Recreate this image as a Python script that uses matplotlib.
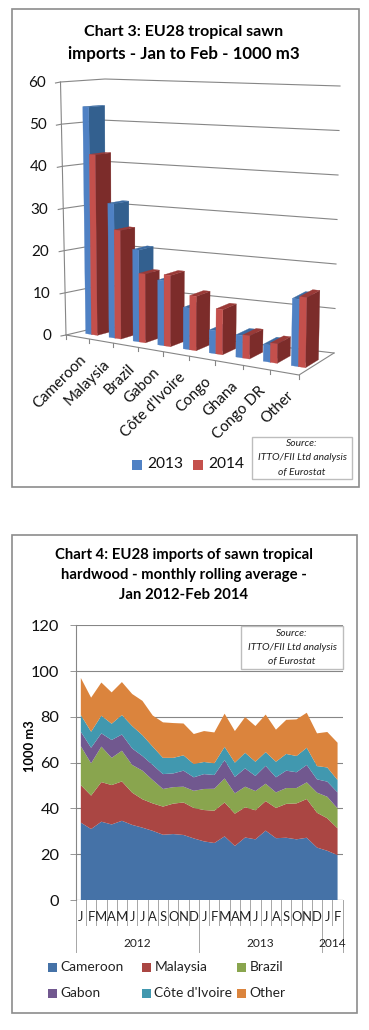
"""
EU28 tropical sawn imports: a pseudo 3D bar chart on top and a stacked area
chart below, laid out on one tall figure.
"""

import matplotlib
import matplotlib.pyplot as plt
import numpy as np
from matplotlib.patches import Rectangle


matplotlib.use("Agg")

plt.rcParams["font.family"] = ["Lato", "DejaVu Sans"]

FIG_W, FIG_H = 369, 1030
GREY = "#868686"

# Chart 3 data
COUNTRIES_3 = ["Cameroon", "Malaysia", "Brazil", "Gabon", "Côte d'Ivoire",
               "Congo", "Ghana", "Congo DR", "Other"]
IMPORTS_2013 = [54.0, 31.6, 21.4, 15.0, 9.5, 5.2, 5.0, 3.8, 14.8]
IMPORTS_2014 = [42.8, 25.5, 16.0, 16.4, 12.4, 10.2, 5.2, 4.3, 15.4]
Y_TICKS_3 = [0, 10, 20, 30, 40, 50, 60]
LEGEND_3 = ["2013", "2014"]

# Chart 4 data
MONTHS = list("JFMAMJJASOND") + list("JFMAMJJASOND") + list("JF")
YEARS = ["2012", "2013", "2014"]
YEAR_SPANS = [(0, 12), (12, 24), (24, 26)]
Y_TICKS_4 = [0, 20, 40, 60, 80, 100, 120]
CAMEROON = [33.8, 31.0, 34.2, 33.0, 34.6, 32.8, 31.6, 30.2, 28.5, 28.8, 28.4, 26.9, 25.6,
            24.9, 27.8, 23.6, 27.3, 26.5, 30.3, 27.0, 27.2, 26.5, 27.2, 22.9, 21.5, 19.6]
MALAYSIA = [16.4, 14.6, 17.3, 17.2, 17.2, 14.1, 12.4, 12.0, 12.3, 13.3, 14.2, 13.3, 13.7,
            14.1, 14.8, 14.1, 13.2, 12.7, 12.9, 13.2, 14.8, 15.7, 16.9, 15.2, 14.2, 11.7]
BRAZIL = [17.0, 14.1, 15.5, 11.9, 13.4, 12.1, 12.5, 10.2, 7.7, 7.2, 6.9, 7.5, 9.2,
          9.6, 10.5, 8.9, 9.0, 8.4, 7.6, 6.8, 6.9, 6.7, 7.3, 8.8, 9.4, 8.7]
GABON = [6.3, 6.8, 5.8, 7.8, 7.1, 7.2, 6.4, 6.6, 6.5, 6.0, 7.0, 5.9, 6.5,
         6.0, 8.0, 7.2, 8.0, 6.6, 7.8, 6.6, 7.6, 6.9, 7.6, 5.8, 6.6, 7.0]
COTE_IVOIRE = [7.3, 7.0, 7.7, 7.1, 8.5, 9.8, 9.1, 8.0, 7.1, 6.8, 6.7, 5.8, 5.3,
               5.1, 5.8, 6.2, 6.8, 6.2, 6.0, 6.8, 7.3, 7.1, 7.5, 5.8, 6.2, 5.4]
OTHER = [16.2, 14.9, 14.5, 13.7, 14.4, 14.0, 15.0, 13.6, 15.5, 15.2, 13.9, 13.1, 13.5,
         13.5, 14.5, 13.8, 15.6, 15.6, 16.4, 14.0, 14.9, 16.0, 15.3, 14.3, 15.5, 16.3]
SERIES_4 = [CAMEROON, MALAYSIA, BRAZIL, GABON, COTE_IVOIRE, OTHER]
LABELS_4 = ["Cameroon", "Malaysia", "Brazil", "Gabon", "Côte d'Ivoire", "Other"]
COLORS_4 = ["#4572A7", "#AA4643", "#89A54E", "#71588F", "#4198AF", "#DB843D"]

# Corners of the 3D box in image pixels: floor and z=60 plane
FLOOR = {"fl": (66, 335), "fr": (299, 375), "bl": (104, 326), "br": (334, 353)}
CEIL = {"fl": (60.5, 82), "fr": (304, 98), "bl": (105, 79), "br": (340, 86)}
WARP = 0.885  # category axis spreads out towards the right

# Bar placement in box units
BAR_START = 0.36
BAR_WIDTH = 0.25
BAR_V0, BAR_V1 = 0.30, 0.67

BLUE_FACES = ("#4F81C4", "#33608F", "#3C6CA3")
RED_FACES = ("#C4504C", "#7C2C2A", "#9A3A37")


def bilinear(corners, s, v):
    fl, fr, bl, br = (np.array(corners[k], dtype=float) for k in ("fl", "fr", "bl", "br"))
    return (1 - v) * ((1 - s) * fl + s * fr) + v * ((1 - s) * bl + s * br)


def project(u, v, z):
    """Category position u (0-9), depth v (0-1), value z -> image pixels."""
    t = u / 9
    s = t * (WARP + (1 - WARP) * t)
    low = bilinear(FLOOR, s, v)
    high = bilinear(CEIL, s, v)
    return low + (high - low) * z / 60


def fill_poly(ax, points, color, zorder):
    pts = np.array(points)
    ax.fill(pts[:, 0], pts[:, 1], color=color, linewidth=0.2, zorder=zorder)


def draw_bar(ax, u0, u1, value, faces, zorder):
    front, side, top = faces
    a = project(u0, BAR_V0, 0)
    b = project(u1, BAR_V0, 0)
    c = project(u1, BAR_V1, 0)
    a_top = project(u0, BAR_V0, value)
    b_top = project(u1, BAR_V0, value)
    c_top = project(u1, BAR_V1, value)
    d_top = project(u0, BAR_V1, value)
    fill_poly(ax, [b, c, c_top, b_top], side, zorder)
    fill_poly(ax, [a_top, b_top, c_top, d_top], top, zorder)
    fill_poly(ax, [a, b, b_top, a_top], front, zorder)


def draw_source_box(ax, x0, y0, x1, y1, size):
    ax.add_patch(Rectangle((x0, y0), x1 - x0, y1 - y0, facecolor="white",
                           edgecolor="#BDBDBD", linewidth=1, zorder=20))
    lines = ["Source:", "ITTO/FII Ltd analysis", "of Eurostat"]
    xc = (x0 + x1) / 2
    step = (y1 - y0) / 3
    for i, line in enumerate(lines):
        ax.text(xc, y0 + step * (i + 0.5), line, style="italic", fontsize=size,
                ha="center", va="center", color="#222222", zorder=21)


def plot_chart_3(ax):
    ax.add_patch(Rectangle((11.5, 8.5), 347, 478.5, facecolor="white",
                           edgecolor="#8C8C8C", linewidth=1.2, zorder=0))
    ax.text(184, 32, "Chart 3: EU28 tropical sawn", fontsize=11.5, weight="bold",
            ha="center", va="center")
    ax.text(184, 54, "imports - Jan to Feb - 1000 m3", fontsize=12.2, weight="bold",
            ha="center", va="center")

    # walls and floor
    for z in Y_TICKS_3:
        p0 = project(0, 0, z)
        p1 = project(0, 1, z)
        p2 = project(9, 1, z)
        ax.plot([p0[0] - 5, p0[0], p1[0], p2[0]], [p0[1] + 1, p0[1], p1[1], p2[1]],
                color=GREY, lw=0.8, zorder=1)
        ax.text(p0[0] - 15, p0[1] + 1, str(z), fontsize=11, ha="right", va="center",
                color="#111111")
    axis_low, axis_high = project(0, 0, 0), project(0, 0, 60)
    ax.plot([axis_low[0], axis_high[0]], [axis_low[1], axis_high[1]], color=GREY, lw=0.8, zorder=1)
    front_r, back_r = project(9, 0, 0), project(9, 1, 0)
    ax.plot([axis_low[0], front_r[0], back_r[0]], [axis_low[1], front_r[1], back_r[1]],
            color=GREY, lw=0.8, zorder=1)
    for i in range(10):
        p = project(i, 0, 0)
        ax.plot([p[0], p[0]], [p[1], p[1] + 4], color=GREY, lw=0.8, zorder=1)

    for i, (v13, v14) in enumerate(zip(IMPORTS_2013, IMPORTS_2014)):
        start = i + BAR_START
        draw_bar(ax, start, start + BAR_WIDTH, v13, BLUE_FACES, 5 + 2 * i)
        draw_bar(ax, start + BAR_WIDTH, start + 2 * BAR_WIDTH, v14, RED_FACES, 6 + 2 * i)

    for i, name in enumerate(COUNTRIES_3):
        p = project(i + 0.5, 0, 0)
        ax.text(p[0] + 2, p[1] + 16, name, rotation=45, rotation_mode="anchor",
                ha="right", va="top", fontsize=10.8, color="#111111")

    for x, label, color in zip((132, 193), LEGEND_3, (BLUE_FACES[0], RED_FACES[0])):
        ax.add_patch(Rectangle((x, 459.5), 10, 10, facecolor=color, edgecolor="none"))
        ax.text(x + 15, 464.5, label, fontsize=11.2, ha="left", va="center", color="#111111")

    draw_source_box(ax, 252, 437, 352, 479, 7.4)


def plot_chart_4(ax, fig):
    ax.add_patch(Rectangle((11.5, 534.5), 345.5, 478, facecolor="white",
                           edgecolor="#8C8C8C", linewidth=1.2, zorder=0))
    titles = ["Chart 4: EU28 imports of sawn tropical",
              "hardwood - monthly rolling average -",
              "Jan 2012-Feb 2014"]
    for y, line in zip((555, 575, 595), titles):
        ax.text(184, y, line, fontsize=10.7, weight="bold", ha="center", va="center")

    left, right, top, bottom = 75.7, 342.7, 625.3, 900
    area = fig.add_axes([left / FIG_W, 1 - bottom / FIG_H,
                         (right - left) / FIG_W, (bottom - top) / FIG_H])
    area.patch.set_alpha(0)
    x = np.arange(len(MONTHS)) + 0.5
    area.stackplot(x, SERIES_4, colors=COLORS_4, linewidth=0, zorder=3)
    area.set_xlim(0, len(MONTHS))
    area.set_ylim(0, 120)
    area.set_yticks(Y_TICKS_4)
    area.set_yticklabels([str(t) for t in Y_TICKS_4], fontsize=11.8, color="#111111")
    area.grid(axis="y", color=GREY, lw=0.8, zorder=1)
    area.set_axisbelow(True)
    area.tick_params(axis="y", length=6.5 * 0.72, width=0.6, color=GREY, pad=7)
    area.set_xticks([])
    for side in ("top", "right", "bottom"):
        area.spines[side].set_visible(False)
    area.spines["left"].set_color(GREY)
    area.spines["left"].set_linewidth(0.8)
    area.axhline(0, color=GREY, lw=0.8, zorder=1)

    # two level month / year axis below the plot
    for i in range(len(MONTHS) + 1):
        long_tick = i in (0, 12, 24, 26)
        area.plot([i, i], [0, -22.7 if long_tick else -10.9], color="#A6A6A6", lw=0.7,
                  clip_on=False, zorder=2)
    for i, month in enumerate(MONTHS):
        area.text(i + 0.5, -7.4, month, fontsize=9.4, ha="center", va="center",
                  color="#222222", clip_on=False)
    for year, (a, b) in zip(YEARS, YEAR_SPANS):
        area.text((a + b) / 2, -19.2, year, fontsize=8.6, ha="center", va="center",
                  color="#222222")

    area.set_ylabel("1000 m3", fontsize=9.3, weight="bold", labelpad=3)
    area.yaxis.set_label_coords(-0.15, 0.56)

    rows = (967, 993)
    cols = (48, 142, 237)
    for i, (label, color) in enumerate(zip(LABELS_4, COLORS_4)):
        x0, y0 = cols[i % 3], rows[i // 3]
        ax.add_patch(Rectangle((x0, y0 - 4.5), 9, 9, facecolor=color, edgecolor="none"))
        ax.text(x0 + 12.5, y0, label, fontsize=9.9, ha="left", va="center", color="#222222")

    return area


def main():
    fig = plt.figure(figsize=(FIG_W / 100, FIG_H / 100), dpi=100)
    ax = fig.add_axes([0, 0, 1, 1])
    ax.set_xlim(0, FIG_W)
    ax.set_ylim(FIG_H, 0)
    ax.axis("off")

    plot_chart_3(ax)
    plot_chart_4(ax, fig)

    # source box of chart 4 sits above the area axes
    top = fig.add_axes([0, 0, 1, 1], zorder=5)
    top.set_xlim(0, FIG_W)
    top.set_ylim(FIG_H, 0)
    top.axis("off")
    draw_source_box(top, 240.7, 626, 343.3, 668.7, 7.4)

    fig.savefig("out.png", dpi=100)
    plt.close(fig)


if __name__ == "__main__":
    main()
